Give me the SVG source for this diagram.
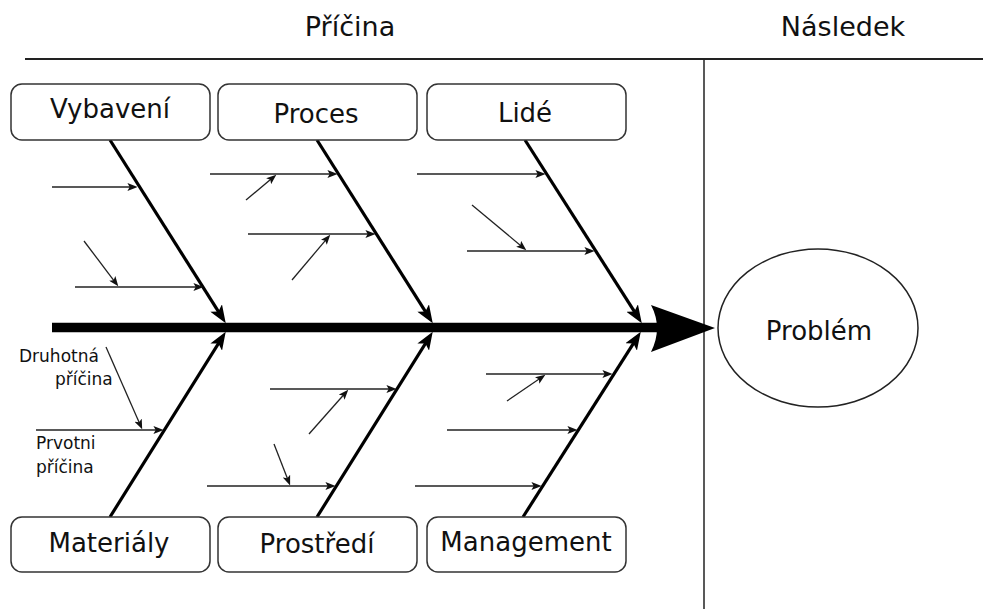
<svg xmlns="http://www.w3.org/2000/svg" width="983" height="609" viewBox="0 0 983 609">
<style>
text{font-family:"DejaVu Sans","Liberation Sans",sans-serif;fill:#111}
.lbl{font-size:26px;text-anchor:middle}
.hdr{font-size:27px;text-anchor:middle}
.sm{font-size:17px}
.box{fill:#fff;stroke:#333;stroke-width:1.5}
.bone{stroke:#000;stroke-width:3.2;fill:none;marker-end:url(#big)}
.sub{stroke:#222;stroke-width:1.6;fill:none;marker-end:url(#small)}
.sub2{stroke:#222;stroke-width:1.3;fill:none;marker-end:url(#small)}
</style>
<defs>
<marker id="big" markerUnits="userSpaceOnUse" markerWidth="18" markerHeight="14" refX="10" refY="6.5" orient="auto" viewBox="0 0 17 13">
<path d="M0,0 L17,6.5 L0,13 L4,6.5 z" fill="#000"/>
</marker>
<marker id="small" markerUnits="userSpaceOnUse" markerWidth="10" markerHeight="8" refX="5" refY="3.5" orient="auto" viewBox="0 0 9 7">
<path d="M0,0 L9,3.5 L0,7 L2,3.5 z" fill="#111"/>
</marker>
</defs>
<rect width="983" height="609" fill="#fff"/>
<g id="header">
<text class="hdr" x="350" y="36">Příčina</text>
<text class="hdr" x="843" y="36">Následek</text>
<line x1="25" y1="59" x2="983" y2="59" stroke="#222" stroke-width="2"/>
<line x1="704" y1="59" x2="704" y2="609" stroke="#222" stroke-width="1.5"/>
</g>
<g id="connectors">
<line x1="52" y1="327.5" x2="662" y2="327.5" stroke="#000" stroke-width="9.5"/>
<path d="M651,305 L715,328 L651,352 Q663,328 651,305 z" fill="#000"/>
<path class="bone" d="M110,140 L221.8,316.9"/>
<path class="bone" d="M317,140 L428.8,316.9"/>
<path class="bone" d="M525,140 L637.8,316.9"/>
<path class="bone" d="M110,517 L221.8,338.1"/>
<path class="bone" d="M317,517 L428.8,338.1"/>
<path class="bone" d="M523,517 L636.8,338.1"/>
<path class="sub" d="M52,187 L133,187"/>
<path class="sub" d="M75,287 L199,287"/>
<path class="sub2" d="M84,241 L115.6,282.8"/>
<path class="sub" d="M210,174 L333,174"/>
<path class="sub2" d="M246,200 L272.9,177.6"/>
<path class="sub" d="M248,234 L371,234"/>
<path class="sub2" d="M292,280 L327.4,238.1"/>
<path class="sub" d="M417,174 L541,174"/>
<path class="sub" d="M467,251 L590,251"/>
<path class="sub2" d="M472,205 L522.9,247.4"/>
<path class="sub" d="M36,430 L159,430"/>
<path class="sub2" d="M106,347 L140.4,425.3"/>
<path class="sub" d="M270,389 L392,389"/>
<path class="sub2" d="M309,434 L345.3,393"/>
<path class="sub" d="M207,486 L331,486"/>
<path class="sub2" d="M274,444 L288.5,481.3"/>
<path class="sub" d="M486,374 L608,374"/>
<path class="sub2" d="M507,401 L541.7,377.3"/>
<path class="sub" d="M447,430 L573,430"/>
<path class="sub" d="M415,486 L537,486"/>
</g>
<g id="vybaveni"><rect class="box" x="11" y="84" width="199" height="56" rx="11"/><text class="lbl" x="110" y="118">Vybavení</text></g>
<g id="proces"><rect class="box" x="218" y="84" width="199" height="56" rx="11"/><text class="lbl" x="316" y="123">Proces</text></g>
<g id="lide"><rect class="box" x="427" y="84" width="199" height="56" rx="11"/><text class="lbl" x="525" y="122">Lidé</text></g>
<g id="materialy"><rect class="box" x="11" y="517" width="199" height="55" rx="11"/><text class="lbl" x="109" y="552">Materiály</text></g>
<g id="prostredi"><rect class="box" x="218" y="517" width="199" height="55" rx="11"/><text class="lbl" x="317" y="553">Prostředí</text></g>
<g id="management"><rect class="box" x="427" y="517" width="199" height="55" rx="11"/><text class="lbl" x="526" y="551">Management</text></g>
<g id="problem"><ellipse cx="818" cy="328" rx="100" ry="79" fill="#fff" stroke="#222" stroke-width="1.5"/><text class="lbl" x="819" y="340">Problém</text></g>
<g id="legend">
<text class="sm" x="19" y="362">Druhotná</text>
<text class="sm" x="55" y="385">příčina</text>
<text class="sm" x="36" y="449">Prvotni</text>
<text class="sm" x="36" y="473">příčina</text>
</g>
</svg>
